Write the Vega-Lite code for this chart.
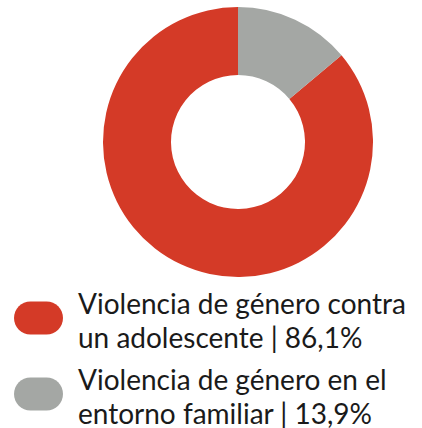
{
  "$schema": "https://vega.github.io/schema/vega-lite/v6.json",
  "width": 368,
  "height": 284,
  "autosize": {"type": "none"},
  "padding": {"left": 54, "top": 0, "right": 0, "bottom": 144},
  "background": "white",
  "data": {
    "values": [
      {"categoria": "Violencia de género contra\nun adolescente | 86,1%", "valor": 86.1, "orden": 2},
      {"categoria": "Violencia de género en el\nentorno familiar | 13,9%", "valor": 13.9, "orden": 1}
    ]
  },
  "mark": {"type": "arc", "outerRadius": 135, "innerRadius": 67, "stroke": null},
  "encoding": {
    "theta": {"field": "valor", "type": "quantitative", "stack": true},
    "order": {"field": "orden", "type": "quantitative"},
    "color": {
      "field": "categoria",
      "type": "nominal",
      "scale": {
        "domain": ["Violencia de género contra\nun adolescente | 86,1%", "Violencia de género en el\nentorno familiar | 13,9%"],
        "range": ["#d43a27", "#a4a7a4"]
      },
      "legend": {
        "title": null,
        "orient": "none",
        "legendX": -40,
        "legendY": 293.5,
        "padding": 0,
        "symbolType": "M-0.327,-0.673 L0.327,-0.673 A0.673,0.673 0 0 1 0.327,0.673 L-0.327,0.673 A0.673,0.673 0 0 1 -0.327,-0.673 Z",
        "symbolSize": 2401,
        "symbolStrokeWidth": 0,
        "symbolOpacity": 1,
        "labelExpr": "split(datum.label, '\\n')",
        "labelFont": "Lato",
        "labelFontSize": 28,
        "labelColor": "#1a1a1a",
        "labelOffset": 15,
        "labelLimit": 400,
        "labelBaseline": "middle",
        "rowPadding": 13
      }
    }
  },
  "config": {
    "view": {"stroke": null},
    "style": {"guide-label": {"lineHeight": 34, "dy": -12}}
  }
}
